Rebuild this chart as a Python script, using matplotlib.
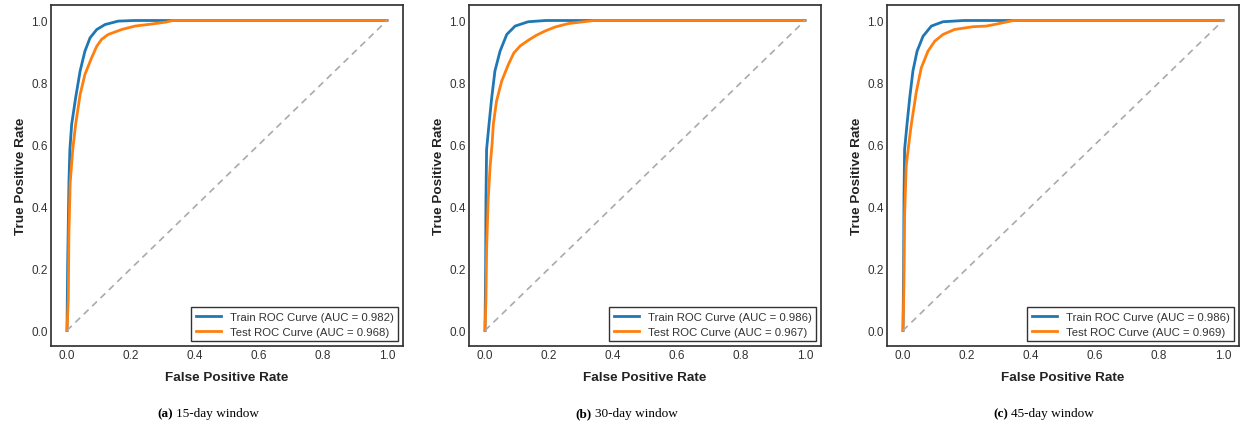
import matplotlib
matplotlib.use("Agg")
import matplotlib.pyplot as plt

# ROC curves per time window: (false positive rate, true positive rate)
windows = ["15-day window", "30-day window", "45-day window"]
panel_tags = ["(a)", "(b)", "(c)"]
train_auc = [0.982, 0.986, 0.986]
test_auc = [0.968, 0.967, 0.969]

train_fpr_15 = [0, 0.002, 0.006, 0.009, 0.0146, 0.027, 0.041, 0.056, 0.072, 0.093, 0.119, 0.16, 0.21, 1.0]
train_tpr_15 = [0, 0.207, 0.477, 0.584, 0.665, 0.751, 0.837, 0.901, 0.944, 0.971, 0.987, 0.998, 1.0, 1.0]
test_fpr_15 = [0, 0.004, 0.006, 0.010, 0.018, 0.027, 0.041, 0.056, 0.077, 0.093, 0.108, 0.129,
               0.171, 0.2125, 0.26, 0.31, 0.33, 1.0]
test_tpr_15 = [0, 0.1, 0.316, 0.477, 0.584, 0.665, 0.761, 0.826, 0.880, 0.917, 0.939, 0.955,
               0.971, 0.982, 0.988, 0.995, 1.0, 1.0]

train_fpr_30 = [0, 0.002, 0.003, 0.005, 0.0125, 0.021, 0.031, 0.047, 0.068, 0.094, 0.135, 0.19, 1.0]
train_tpr_30 = [0, 0.2, 0.423, 0.584, 0.665, 0.751, 0.837, 0.901, 0.955, 0.982, 0.996, 1.0, 1.0]
test_fpr_30 = [0, 0.003, 0.005, 0.010, 0.016, 0.022, 0.026, 0.036, 0.052, 0.073, 0.090, 0.110,
               0.135, 0.160, 0.1875, 0.219, 0.26, 0.34, 1.0]
test_tpr_30 = [0, 0.1, 0.261, 0.423, 0.53, 0.60, 0.665, 0.740, 0.804, 0.858, 0.895, 0.918,
               0.936, 0.952, 0.966, 0.979, 0.990, 1.0, 1.0]

train_fpr_45 = [0, 0.002, 0.003, 0.005, 0.0125, 0.021, 0.031, 0.044, 0.0625, 0.0885, 0.125, 0.19, 1.0]
train_tpr_45 = [0, 0.2, 0.423, 0.584, 0.665, 0.751, 0.837, 0.901, 0.949, 0.982, 0.996, 1.0, 1.0]
test_fpr_45 = [0, 0.003, 0.005, 0.010, 0.018, 0.026, 0.042, 0.057, 0.078, 0.099, 0.125, 0.161,
               0.219, 0.26, 0.29, 0.345, 1.0]
test_tpr_45 = [0, 0.155, 0.369, 0.53, 0.60, 0.665, 0.772, 0.847, 0.901, 0.933, 0.955, 0.971,
               0.980, 0.982, 0.988, 1.0, 1.0]

train_curves = [(train_fpr_15, train_tpr_15), (train_fpr_30, train_tpr_30), (train_fpr_45, train_tpr_45)]
test_curves = [(test_fpr_15, test_tpr_15), (test_fpr_30, test_tpr_30), (test_fpr_45, test_tpr_45)]
ticks = [0.0, 0.2, 0.4, 0.6, 0.8, 1.0]

sans = ["Liberation Sans", "DejaVu Sans"]
serif = ["Liberation Serif", "DejaVu Serif"]

fig = plt.figure(figsize=(12.42, 4.27), dpi=100)
W, H = 1242, 427
lefts = [51, 469, 887]
caption_left = [157, 575, 993]
renderer = fig.canvas.get_renderer()

for i in range(3):
    ax = fig.add_axes([lefts[i] / W, 80 / H, 352 / W, 341 / H])
    ax.plot(*train_curves[i], color="#1f77b4", lw=2,
            label=f"Train ROC Curve (AUC = {train_auc[i]:.3f})")
    ax.plot(*test_curves[i], color="#ff7f0e", lw=2,
            label=f"Test ROC Curve (AUC = {test_auc[i]:.3f})")
    ax.plot([0, 1], [0, 1], color="#aaaaaa", lw=1.2, ls=(0, (4, 3)))
    ax.set_xlim(-0.05, 1.05)
    ax.set_ylim(-0.05, 1.05)
    ax.set_xticks(ticks)
    ax.set_yticks(ticks)
    ax.set_xticklabels([f"{t:.1f}" for t in ticks], family=sans, fontsize=8.5, color="#333333")
    ax.set_yticklabels([f"{t:.1f}" for t in ticks], family=sans, fontsize=8.5, color="#333333")
    ax.tick_params(length=0, pad=2.5)
    for s in ax.spines.values():
        s.set_color("#333333")
        s.set_linewidth(1.25)
    ax.set_xlabel("False Positive Rate", family=sans, fontsize=9.7, fontweight="bold",
                  color="#222222", labelpad=7)
    ax.set_ylabel("True Positive Rate", family=sans, fontsize=9.7, fontweight="bold",
                  color="#222222", labelpad=3)
    leg = ax.legend(loc="lower right", prop={"family": sans, "size": 8.2}, fancybox=False,
                    edgecolor="#333333", framealpha=1, borderaxespad=0.4,
                    handlelength=2.2, borderpad=0.42, labelspacing=0.42)
    leg.get_frame().set_linewidth(1.0)
    for t in leg.get_texts():
        t.set_color("#333333")

    # sub-figure caption: bold tag followed by the window description
    tag = fig.text(caption_left[i] / W, 1 - 414 / H, panel_tags[i], family=serif, fontsize=9.5,
                   fontweight="bold", ha="left", va="center")
    tag_end = tag.get_window_extent(renderer=renderer).x1
    fig.text((tag_end + 3.5) / W, 1 - 414 / H, windows[i], family=serif, fontsize=9.5,
             ha="left", va="center")

fig.savefig("out.png", dpi=100)
